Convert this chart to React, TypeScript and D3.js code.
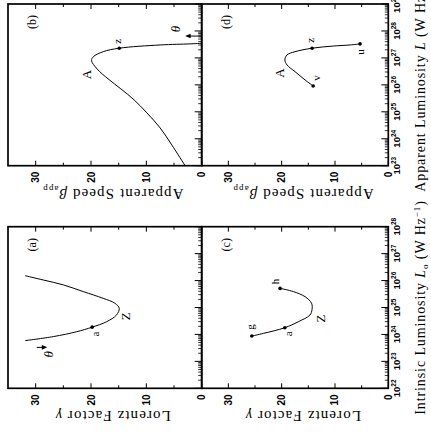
import React, { useEffect, useRef } from 'react';
import * as d3 from 'd3';

// The figure is drawn upright in its own frame (434 wide, 431 tall)
// and then turned a quarter turn counter-clockwise, as in the scan.
const FIG_W = 434;

// (a) Lorentz factor vs intrinsic luminosity (log10 L_o)
const aLogL = [23.77, 23.92, 24.1, 24.27, 24.47, 24.72, 24.97, 25.16, 25.34, 25.59, 25.84, 26.02, 26.18];
const aGamma = [31.9, 26.8, 22.6, 19.8, 17.2, 15.4, 14.9, 15.7, 17.8, 21.4, 25.0, 28.6, 31.9];

// (b) apparent speed vs apparent luminosity (log10 L)
const bLogL = [23.0, 23.77, 24.4, 24.96, 25.44, 25.85, 26.22, 26.59, 26.9, 27.04, 27.23, 27.36, 27.48, 27.52, 27.54];
const bBeta = [3.0, 5.4, 7.5, 9.9, 12.2, 14.6, 16.9, 18.9, 19.9, 19.6, 17.8, 14.9, 7.5, 2.1, 0];

// (c) Lorentz factor, segment g..h
const cLogL = [23.94, 24.04, 24.25, 24.47, 24.72, 24.93, 25.16, 25.4, 25.59, 25.71];
const cGamma = [25.6, 23.4, 19.4, 16.9, 14.7, 14.3, 14.4, 15.6, 17.8, 20.3];

// (d) apparent speed, segment v..u
const dLogL = [25.96, 26.18, 26.49, 26.74, 26.92, 27.11, 27.23, 27.36, 27.44, 27.48, 27.52];
const dBeta = [14.1, 15.6, 17.5, 19.0, 19.4, 19.0, 17.5, 14.3, 10.3, 7.2, 5.3];

// labelled points (dot = marked with a filled circle)
const aNoteText = ['a', 'Z'];
const aNoteLogL = [24.27, 24.97];
const aNoteVal = [19.8, 14.9];
const aNoteDot = [true, false];

const bNoteText = ['A', 'z'];
const bNoteLogL = [26.9, 27.36];
const bNoteVal = [19.9, 14.9];
const bNoteDot = [false, true];

const cNoteText = ['g', 'a', 'Z', 'h'];
const cNoteLogL = [23.94, 24.25, 24.93, 25.71];
const cNoteVal = [25.6, 19.4, 14.3, 20.3];
const cNoteDot = [true, true, false, true];

const dNoteText = ['v', 'A', 'z', 'u'];
const dNoteLogL = [25.96, 26.92, 27.36, 27.52];
const dNoteVal = [14.1, 19.4, 14.3, 5.3];
const dNoteDot = [true, false, true, true];

// theta arrows: [log L, from, to]
const aArrow = [23.52, 29.8, 27.9];
const bArrow = [27.81, 0, 3.0];

const yTicks = [0, 10, 20, 30];
const yMinor = [5, 15, 25];
const leftDecades = [22, 23, 24, 25, 26, 27, 28];
const rightDecades = [23, 24, 25, 26, 27, 28, 29];

const serif = '"Liberation Serif", "DejaVu Serif", serif';
const sans = '"Liberation Sans", Arial, sans-serif';

// label offsets (glyph centre relative to point)
const noteOffset = {
  'a:a': [-7, 3], 'a:Z': [-8, 6],
  'b:A': [-14, -5], 'b:z': [7, -2],
  'c:g': [9, -2], 'c:a': [-6, 3], 'c:Z': [-9, 8], 'c:h': [7, -5],
  'd:v': [8, 3], 'd:A': [-13, -5], 'd:z': [8, -2], 'd:u': [-8, 0],
};

export default function App() {
  const svgRef = useRef<SVGSVGElement>(null);

  useEffect(() => {
    const svg = d3.select(svgRef.current);
    svg.selectAll('*').remove();
    const root = svg.append('g').attr('transform', `translate(0,${FIG_W}) rotate(-90)`);

    const colLeft = [45.7, 207.3];
    const colRight = [268.3, 430];
    const rowTop = [8, 201.7];
    const rowBot = [201.7, 388.3];

    const panels = [
      { id: 'a', col: colLeft, row: rowTop, dec: leftDecades, logL: aLogL, val: aGamma,
        nt: aNoteText, nl: aNoteLogL, nv: aNoteVal, nd: aNoteDot, arrow: aArrow, theta: [-7, 1],
        ytitle: 'gamma', xtitle: null },
      { id: 'b', col: colRight, row: rowTop, dec: rightDecades, logL: bLogL, val: bBeta,
        nt: bNoteText, nl: bNoteLogL, nv: bNoteVal, nd: bNoteDot, arrow: bArrow, theta: [7, -10],
        ytitle: 'beta', xtitle: null },
      { id: 'c', col: colLeft, row: rowBot, dec: leftDecades, logL: cLogL, val: cGamma,
        nt: cNoteText, nl: cNoteLogL, nv: cNoteVal, nd: cNoteDot, arrow: null, theta: null,
        ytitle: 'gamma', xtitle: 'intrinsic' },
      { id: 'd', col: colRight, row: rowBot, dec: rightDecades, logL: dLogL, val: dBeta,
        nt: dNoteText, nl: dNoteLogL, nv: dNoteVal, nd: dNoteDot, arrow: null, theta: null,
        ytitle: 'beta', xtitle: 'apparent' },
    ];

    panels.forEach((p) => {
      const g = root.append('g');
      const x = d3.scaleLog()
        .domain([10 ** p.dec[0], 10 ** p.dec[p.dec.length - 1]])
        .range(p.col);
      const y = d3.scaleLinear().domain([0, 35]).range([p.row[1], p.row[0]]);
      const [x0, x1] = p.col;
      const [y0, y1] = p.row;

      // x ticks (bottom, inward)
      p.dec.forEach((e, i) => {
        g.append('line').attr('x1', x(10 ** e)).attr('x2', x(10 ** e))
          .attr('y1', y1).attr('y2', y1 - 7).attr('stroke', '#000').attr('stroke-width', 1);
        if (i < p.dec.length - 1) {
          for (let k = 2; k <= 9; k++) {
            const xv = x(k * 10 ** e);
            g.append('line').attr('x1', xv).attr('x2', xv)
              .attr('y1', y1).attr('y2', y1 - 3.5).attr('stroke', '#000').attr('stroke-width', 0.8);
          }
        }
      });

      // y ticks on both sides
      yTicks.concat(yMinor).forEach((v) => {
        const len = yTicks.includes(v) ? 5 : 3;
        g.append('line').attr('x1', x0).attr('x2', x0 + len)
          .attr('y1', y(v)).attr('y2', y(v)).attr('stroke', '#000').attr('stroke-width', 1);
        g.append('line').attr('x1', x1).attr('x2', x1 - len)
          .attr('y1', y(v)).attr('y2', y(v)).attr('stroke', '#000').attr('stroke-width', 1);
      });

      // frame
      g.append('rect').attr('x', x0).attr('y', y0).attr('width', x1 - x0).attr('height', y1 - y0)
        .attr('fill', 'none').attr('stroke', '#000').attr('stroke-width', 1.7);

      // y tick labels
      yTicks.forEach((v) => {
        g.append('text').attr('x', x0 - 6).attr('y', y(v)).attr('dy', '0.35em')
          .attr('text-anchor', 'end').attr('font-family', sans).attr('font-weight', 'bold')
          .attr('font-size', 10).text(v);
      });

      // y title
      const yt = g.append('text')
        .attr('transform', `translate(${x0 - 23},${(y0 + y1) / 2 + 8}) rotate(-90)`)
        .attr('text-anchor', 'middle').attr('font-family', serif).attr('font-size', 15)
        .attr('letter-spacing', 1.1);
      if (p.ytitle === 'gamma') {
        yt.append('tspan').text('Lorentz Factor ');
        yt.append('tspan').attr('font-style', 'italic').text('γ');
      } else {
        yt.append('tspan').text('Apparent Speed  ');
        yt.append('tspan').attr('font-style', 'italic').text('β');
        yt.append('tspan').attr('font-size', 9).attr('dy', 3).text('app');
      }

      // x tick labels + title on the bottom row
      if (p.xtitle) {
        p.dec.forEach((e) => {
          const t = g.append('text').attr('x', x(10 ** e)).attr('y', y1 + 12)
            .attr('text-anchor', 'middle').attr('font-family', sans).attr('font-weight', 'bold')
            .attr('font-size', 9.5);
          t.append('tspan').text('10');
          t.append('tspan').attr('font-size', 6.5).attr('dy', -4).text(e);
        });
        const xt = g.append('text').attr('x', (x0 + x1) / 2).attr('y', y1 + 37)
          .attr('text-anchor', 'middle').attr('font-family', serif).attr('font-size', 14)
          .attr('letter-spacing', 0.9);
        if (p.xtitle === 'intrinsic') {
          xt.append('tspan').text('Intrinsic Luminosity ');
          xt.append('tspan').attr('font-style', 'italic').text('L');
          xt.append('tspan').attr('font-size', 9).attr('dy', 3).text('o');
          xt.append('tspan').attr('dy', -3).text(' (W Hz');
        } else {
          xt.append('tspan').text('Apparent Luminosity ');
          xt.append('tspan').attr('font-style', 'italic').text('L');
          xt.append('tspan').text(' (W Hz');
        }
        xt.append('tspan').attr('font-size', 9).attr('dy', -5).text('−1');
        xt.append('tspan').attr('dy', 5).text(')');
      }

      // panel letter
      g.append('text').attr('x', x1 - 18).attr('y', y0 + 24).attr('dy', '0.35em')
        .attr('text-anchor', 'middle').attr('font-family', serif).attr('font-size', 12)
        .text(`(${p.id})`);

      // curve
      const pts = p.logL.map((l, i) => [l, p.val[i]]);
      const line = d3.line<number[]>()
        .x((d) => x(10 ** d[0]))
        .y((d) => y(d[1]))
        .curve(d3.curveCatmullRom.alpha(0.5));
      g.append('path').attr('d', line(pts)).attr('fill', 'none')
        .attr('stroke', '#000').attr('stroke-width', 1);

      // points and labels
      p.nt.forEach((t, i) => {
        const px = x(10 ** p.nl[i]);
        const py = y(p.nv[i]);
        if (p.nd[i]) g.append('circle').attr('cx', px).attr('cy', py).attr('r', 1.8).attr('fill', '#000');
        const off = noteOffset[`${p.id}:${t}`] || [0, 0];
        g.append('text').attr('x', px + off[0]).attr('y', py + off[1]).attr('dy', '0.35em')
          .attr('text-anchor', 'middle').attr('font-family', serif)
          .attr('font-size', t === 'A' || t === 'Z' ? 13 : 11).text(t);
      });

      // theta arrow
      if (p.arrow) {
        const ax = x(10 ** p.arrow[0]);
        const ya = y(p.arrow[1]);
        const yb = y(p.arrow[2]);
        const dir = yb < ya ? -1 : 1;
        g.append('line').attr('x1', ax).attr('x2', ax).attr('y1', ya).attr('y2', yb - dir * 4)
          .attr('stroke', '#000').attr('stroke-width', 1);
        g.append('path')
          .attr('d', `M${ax},${yb} L${ax - 2.3},${yb - dir * 5.5} L${ax + 2.3},${yb - dir * 5.5} Z`)
          .attr('fill', '#000');
        g.append('text').attr('x', ax + p.theta[0]).attr('y', yb + p.theta[1]).attr('dy', '0.35em')
          .attr('text-anchor', 'middle').attr('font-family', serif).attr('font-style', 'italic')
          .attr('font-size', 13).text('θ');
      }
    });
  }, []);

  return (
    <svg
      ref={svgRef}
      width={431}
      height={434}
      style={{ position: 'absolute', left: 0, top: 0, background: '#fff' }}
    />
  );
}
